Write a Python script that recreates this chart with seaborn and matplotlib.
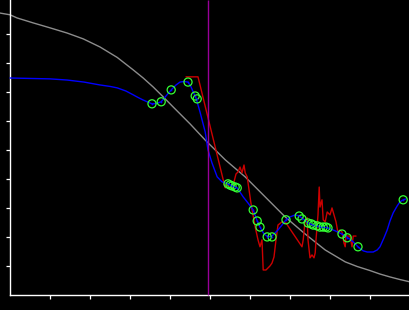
import matplotlib
matplotlib.use("Agg")
import matplotlib.pyplot as plt
import seaborn as sns
import pandas as pd

# ---- data ----
gray_x = [-0.25, 0.0, 0.18, 0.58, 1.0, 1.43, 1.83, 2.25, 2.68, 3.08, 3.33, 3.58,
          3.83, 4.08, 4.5, 4.88, 5.38, 5.88, 6.38, 6.88, 7.38, 7.88, 8.38, 8.68,
          9.0, 9.25, 9.5, 9.75, 10.0]
gray_y = [9.72, 9.66, 9.55, 9.38, 9.21, 9.03, 8.83, 8.55, 8.19, 7.76, 7.48, 7.17,
          6.83, 6.48, 5.90, 5.34, 4.66, 4.07, 3.38, 2.69, 2.10, 1.55, 1.14, 0.98,
          0.84, 0.72, 0.62, 0.53, 0.45]

blue_x = [0.0, 1.0, 1.43, 1.85, 2.25, 2.5, 2.68, 2.9, 3.08, 3.2, 3.33, 3.55, 3.65,
          3.78, 3.9, 4.03, 4.15, 4.25, 4.35, 4.45, 4.52, 4.58, 4.65, 4.75, 4.88,
          4.95, 5.05, 5.18, 5.3, 5.45, 5.68, 5.83, 5.95, 6.08, 6.18, 6.25, 6.35,
          6.45, 6.55, 6.7, 6.8, 6.9, 7.0, 7.13, 7.23, 7.33, 7.45, 7.58, 7.7, 7.83,
          7.95, 8.13, 8.3, 8.45, 8.58, 8.7, 8.83, 8.93, 9.08, 9.18, 9.25, 9.35,
          9.43, 9.5, 9.58, 9.68, 9.75, 9.83, 9.9]
blue_y = [7.48, 7.45, 7.41, 7.34, 7.24, 7.19, 7.14, 7.03, 6.90, 6.81, 6.72, 6.59,
          6.60, 6.66, 6.86, 7.07, 7.24, 7.34, 7.36, 7.34, 7.19, 7.00, 6.79, 6.31,
          5.62, 5.00, 4.55, 4.07, 3.90, 3.83, 3.69, 3.38, 3.17, 2.93, 2.55, 2.34,
          2.10, 2.00, 2.03, 2.24, 2.41, 2.59, 2.69, 2.76, 2.72, 2.62, 2.48, 2.41,
          2.38, 2.34, 2.31, 2.21, 2.10, 1.97, 1.83, 1.66, 1.52, 1.48, 1.48, 1.55,
          1.66, 1.97, 2.24, 2.55, 2.83, 3.07, 3.21, 3.28, 3.31]

red_x = [4.4, 4.7, 5.38, 5.43, 5.5, 5.58, 5.6, 5.65, 5.7, 5.75, 5.8, 5.85, 5.88,
         5.93, 6.03, 6.13, 6.2, 6.25, 6.3, 6.33, 6.4, 6.45, 6.5, 6.55, 6.6, 6.65,
         6.7, 6.8, 6.9, 7.3, 7.33, 7.38, 7.43, 7.45, 7.5, 7.55, 7.6, 7.63, 7.65,
         7.7, 7.73, 7.75, 7.8, 7.83, 7.88, 7.93, 8.0, 8.05, 8.1, 8.15, 8.2, 8.25,
         8.3, 8.35, 8.38, 8.4, 8.5, 8.55, 8.58, 8.65]
red_y = [7.52, 7.52, 3.69, 3.83, 3.69, 3.69, 3.90, 4.17, 4.24, 4.41, 4.21, 4.48,
         4.21, 4.07, 3.10, 2.34, 1.90, 1.66, 1.90, 0.86, 0.86, 0.93, 1.00, 1.10,
         1.31, 1.90, 2.41, 2.52, 2.48, 1.66, 1.90, 2.59, 2.66, 1.90, 1.28, 1.38,
         1.28, 1.45, 1.90, 2.76, 3.72, 3.03, 3.28, 2.59, 2.52, 2.86, 2.76, 3.00,
         2.76, 2.52, 2.14, 2.24, 2.17, 1.79, 1.66, 2.03, 2.03, 1.66, 2.03, 2.03]

pts_x = [3.55, 3.78, 4.03, 4.45, 4.63, 4.68, 5.45, 5.5, 5.55, 5.63, 5.68, 6.08,
         6.18, 6.25, 6.43, 6.55, 6.9, 7.23, 7.3, 7.45, 7.53, 7.58, 7.68, 7.75,
         7.83, 7.9, 7.95, 8.3, 8.43, 8.7, 9.83]
pts_y = [6.59, 6.66, 7.07, 7.34, 6.86, 6.76, 3.83, 3.79, 3.76, 3.72, 3.69, 2.93,
         2.55, 2.34, 2.00, 2.00, 2.59, 2.72, 2.62, 2.48, 2.45, 2.41, 2.38, 2.34,
         2.34, 2.34, 2.31, 2.10, 1.97, 1.66, 3.28]

vline_x = 4.96
x_ticks = [1, 2, 3, 4, 5, 6, 7, 8, 9]
y_ticks = [1, 2, 3, 4, 5, 6, 7, 8, 9]
x_range = (-0.25, 10.0)
y_range = (-0.52, 10.17)

# ---- figure ----
sns.set_style("dark")
fig = plt.figure(figsize=(4.1, 3.1), dpi=100, facecolor="black")
ax = fig.add_axes([0, 0, 1, 1])
ax.set_facecolor("black")

gray_df = pd.DataFrame({"x": gray_x, "y": gray_y})
blue_df = pd.DataFrame({"x": blue_x, "y": blue_y})
red_df = pd.DataFrame({"x": red_x, "y": red_y})
pts_df = pd.DataFrame({"x": pts_x, "y": pts_y})

sns.lineplot(data=gray_df, x="x", y="y", sort=False, estimator=None, ax=ax,
             color="#8c8c8c", linewidth=1.0, zorder=2)
sns.lineplot(data=red_df, x="x", y="y", sort=False, estimator=None, ax=ax,
             color="#cc0000", linewidth=1.0, zorder=3)
sns.lineplot(data=blue_df, x="x", y="y", sort=False, estimator=None, ax=ax,
             color="#0000ff", linewidth=1.0, zorder=4)
ax.vlines(vline_x, 0, y_range[1], color="#990099", linewidth=1.0, zorder=5)
sns.scatterplot(data=pts_df, x="x", y="y", ax=ax, s=34, facecolor="none",
                edgecolor="#33ff33", linewidth=0.9, zorder=6)
sns.scatterplot(data=pts_df, x="x", y="y", ax=ax, s=1.5, color="#0000ff",
                linewidth=0, zorder=7)

ax.set_xlim(*x_range)
ax.set_ylim(*y_range)
ax.grid(False)
ax.set_xlabel("")
ax.set_ylabel("")
ax.set_xticks(x_ticks)
ax.set_yticks(y_ticks)
ax.set_xticklabels([])
ax.set_yticklabels([])
ax.tick_params(axis="both", direction="out", length=2.8, width=0.9,
               color="white", bottom=True, left=True)

for side in ("top", "right"):
    ax.spines[side].set_visible(False)
for side in ("left", "bottom"):
    ax.spines[side].set_color("white")
    ax.spines[side].set_linewidth(1.0)
ax.spines["left"].set_position(("data", 0))
ax.spines["bottom"].set_position(("data", 0))
ax.spines["left"].set_bounds(0, y_range[1])
ax.spines["bottom"].set_bounds(0, x_range[1])

fig.savefig("out.png", dpi=100, facecolor="black")
